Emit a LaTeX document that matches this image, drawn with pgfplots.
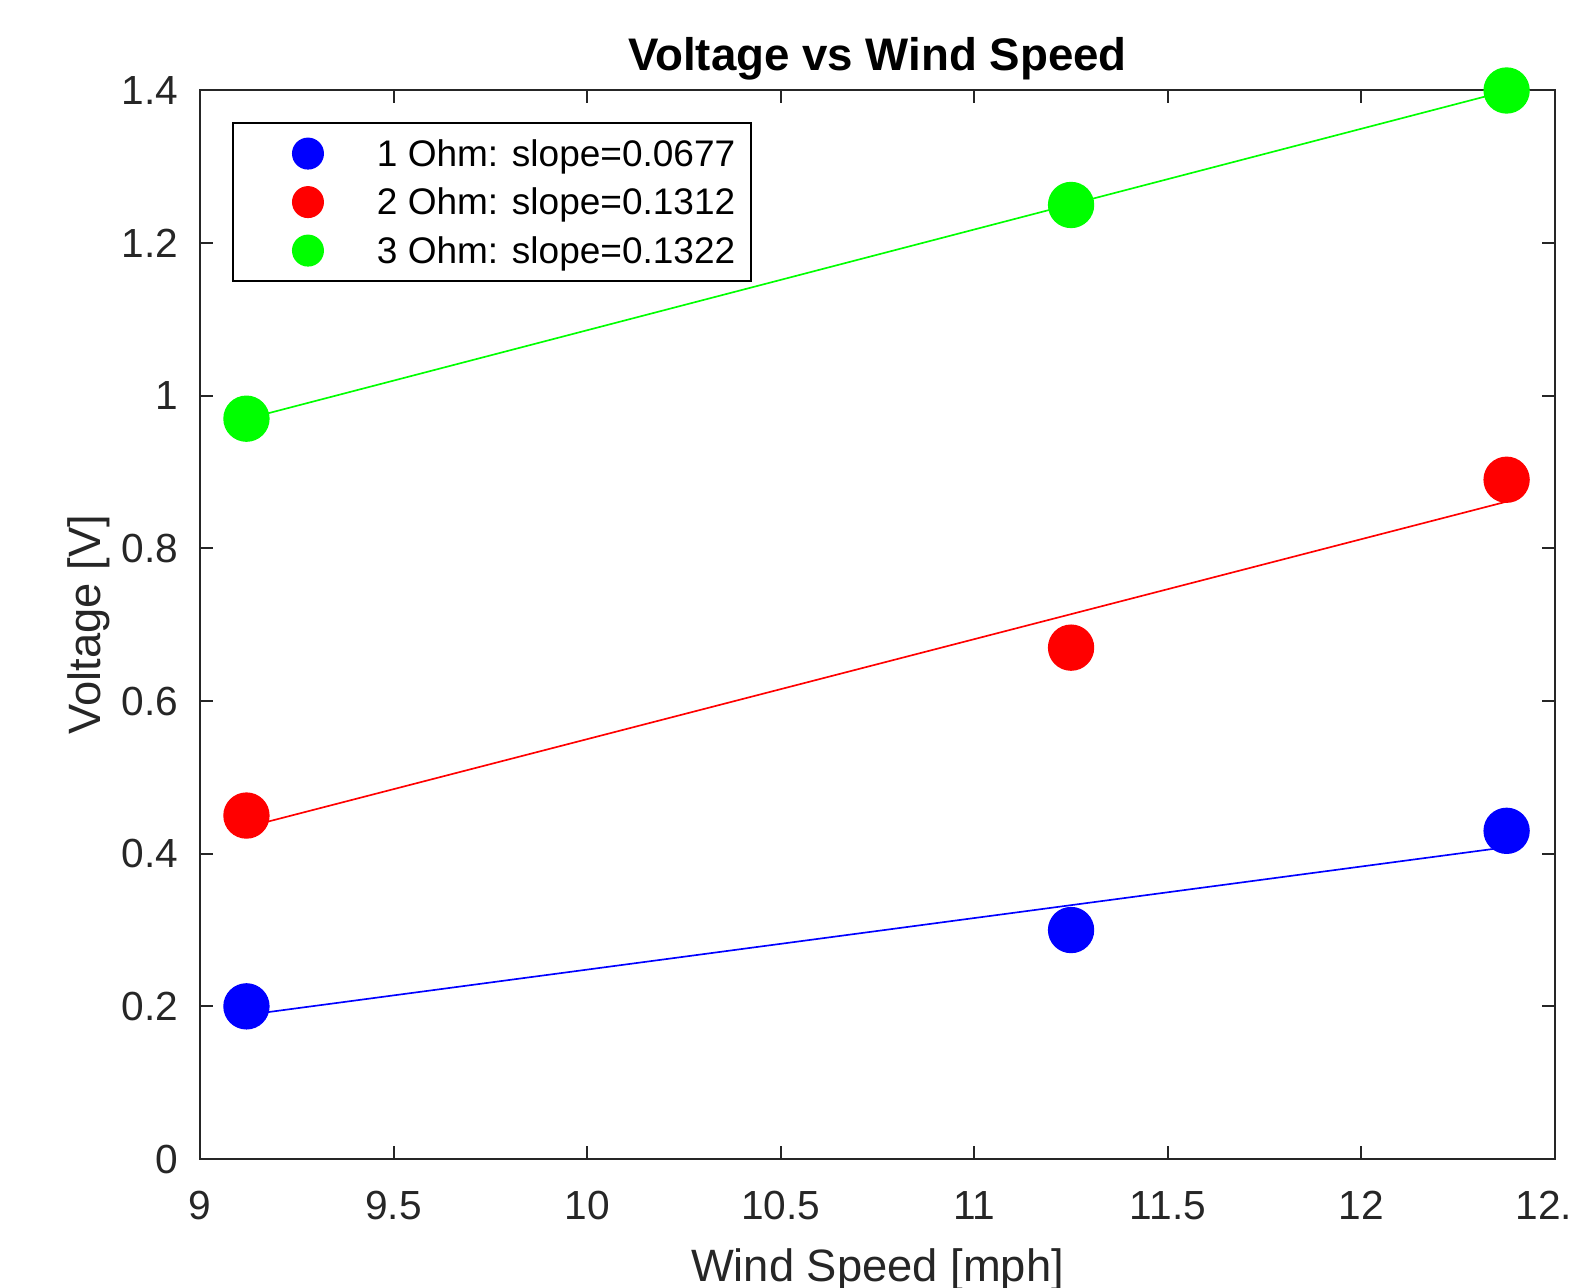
\documentclass[border=0pt]{standalone}
\usepackage{pgfplots}
\pgfplotsset{compat=1.18}
\usepackage{fontspec}
\setmainfont{Liberation Sans}

\definecolor{axgray}{gray}{0.15}
\definecolor{mblue}{rgb}{0,0,1}
\definecolor{mred}{rgb}{1,0,0}
\definecolor{mgreen}{rgb}{0,1,0}

\begin{document}
\begin{tikzpicture}
	% frame of the (cropped) figure
	\useasboundingbox (-60pt,-38.4pt) rectangle (411pt,347.7pt);
	\clip (-60pt,-38.4pt) rectangle (411pt,347.7pt);
	\begin{axis}[
		scale only axis,
		width=406.5pt,
		height=320.55pt,
		xmin=9, xmax=12.5,
		ymin=0, ymax=1.4,
		xtick={9,9.5,10,10.5,11,11.5,12,12.5},
		ytick={0,0.2,0.4,0.6,0.8,1,1.2,1.4},
		tick pos=both,
		xticklabel pos=bottom,
		yticklabel pos=left,
		tick align=inside,
		major tick length=3.9pt,
		tick style={color=axgray, line width=0.6pt},
		axis line style={draw=axgray, line width=0.6pt},
		/pgf/number format/assume math mode=true,
		ticklabel style={font=\fontsize{12.2}{14}\selectfont, text=axgray, inner sep=0pt},
		xticklabel style={anchor=base, yshift=-18pt},
		yticklabel style={anchor=east, xshift=-6.3pt},
		title={Voltage vs Wind Speed},
		title style={at={(axis description cs:0.5,1)}, anchor=base,
			font=\fontsize{13.7}{16}\selectfont\bfseries, inner sep=0pt},
		xlabel={Wind Speed [mph]},
		xlabel style={at={(axis description cs:0.5,-0.1142)}, anchor=base,
			font=\fontsize{13.6}{16}\selectfont, text=axgray, inner sep=0pt},
		ylabel={Voltage [V]},
		ylabel style={at={(axis description cs:-0.0735,0.5)}, anchor=base,
			font=\fontsize{13.6}{16}\selectfont, text=axgray, inner sep=0pt},
		legend style={at={(axis description cs:0.0236,0.9705)}, anchor=north west,
			draw=black, line width=0.6pt, fill=white,
			inner xsep=2.8pt, inner ysep=1.9pt,
			font=\fontsize{11.1}{13}\selectfont,
			nodes={inner xsep=2pt, inner ysep=0pt, text height=11pt, text depth=3.55pt},
			cells={anchor=west}},
		legend image code/.code={
			\path[draw=none, fill=none] (0pt,0pt) -- (38.4pt,0pt);
			\fill[#1, draw=none] (19.7pt,0pt) circle[radius=4.8pt];
		},
		clip=false,
	]
		% least-squares fit lines
		\addplot[mblue, line width=0.5pt, forget plot] coordinates {(9.12,0.1887) (12.375,0.4086)};
		\addplot[mred, line width=0.5pt, forget plot] coordinates {(9.12,0.4348) (12.375,0.8613)};
		\addplot[mgreen, line width=0.5pt, forget plot] coordinates {(9.12,0.9697) (12.375,1.3994)};
		% measured points
		\addplot[only marks, mark=*, mark size=6.75pt, mblue, mark options={draw=mblue, fill=mblue}]
			coordinates {(9.12,0.20) (11.25,0.30) (12.375,0.43)};
		\addplot[only marks, mark=*, mark size=6.75pt, mred, mark options={draw=mred, fill=mred}]
			coordinates {(9.12,0.45) (11.25,0.67) (12.375,0.89)};
		\addplot[only marks, mark=*, mark size=6.75pt, mgreen, mark options={draw=mgreen, fill=mgreen}]
			coordinates {(9.12,0.97) (11.25,1.25) (12.375,1.40)};
		\legend{1 Ohm: slope=0.0677, 2 Ohm: slope=0.1312, 3 Ohm: slope=0.1322}
	\end{axis}
\end{tikzpicture}
\end{document}
